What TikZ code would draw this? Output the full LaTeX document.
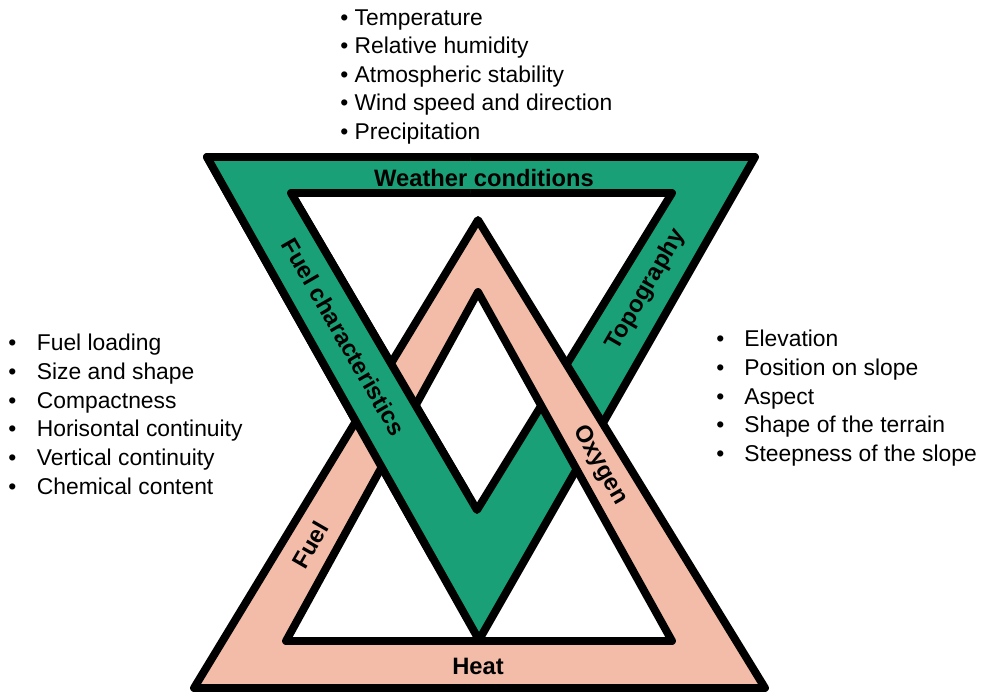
\documentclass[tikz,border=0pt]{standalone}
\usepackage{fontspec}
\setmainfont{Liberation Sans}
\usetikzlibrary{positioning}
\definecolor{fireGreen}{HTML}{19A077}
\definecolor{firePink}{HTML}{F3BCA9}

\tikzset{
  band/.style={draw=black,line width=4.5pt,line join=round,even odd rule},
  tag/.style={font=\fontsize{13.5}{15}\selectfont\bfseries,inner sep=0pt},
  list/.style={font=\fontsize{13}{16.3}\selectfont,align=left,anchor=north west,inner sep=0pt}
}
\newcommand{\bul}[1][1.25em]{\makebox[#1][l]{•}}

\begin{document}
\begin{tikzpicture}[x=0.02cm,y=-0.02cm]
  \useasboundingbox (0,0) rectangle (989,696);
  % corners of the two rings
  \coordinate (g1) at (207,157);
  \coordinate (g2) at (755,157);
  \coordinate (g3) at (479,640);
  \coordinate (h1) at (291,193);
  \coordinate (h2) at (672,193);
  \coordinate (h3) at (477,510);
  \coordinate (p1) at (194,688);
  \coordinate (p2) at (765,688);
  \coordinate (p3) at (478,220);
  \coordinate (q1) at (286,641);
  \coordinate (q2) at (672,641);
  \coordinate (q3) at (478,292);
  % green ring, pink ring on top
  \filldraw[band,fill=fireGreen] (g1) -- (g2) -- (g3) -- cycle (h1) -- (h2) -- (h3) -- cycle;
  \filldraw[band,fill=firePink] (p1) -- (p2) -- (p3) -- cycle (q1) -- (q2) -- (q3) -- cycle;
  % green passes over pink on the left
  \begin{scope}
    \clip (150,100) rectangle (470,560);
    \filldraw[band,fill=fireGreen] (g1) -- (g2) -- (g3) -- cycle (h1) -- (h2) -- (h3) -- cycle;
  \end{scope}
  % band labels
  \node[tag] (weather) at (484,178) {Weather conditions};
  \node[tag,rotate=-60] (fuelchar) at (344,337) {Fuel characteristics};
  \node[tag,rotate=60] (topo) at (646,290) {Topography};
  \node[tag,rotate=60] (fuel) at (310,545) {Fuel};
  \node[tag,rotate=-60] (oxygen) at (600,465) {Oxygen};
  \node[tag] (heat) at (478,666) {Heat};
  % factor lists
  \node[list] (wlist) at (340,9)
    {• Temperature\\• Relative humidity\\• Atmospheric stability\\• Wind speed and direction\\• Precipitation};
  \node[list] (flist) at (8,334)
    {\bul Fuel loading\\\bul Size and shape\\\bul Compactness\\\bul Horisontal continuity\\\bul Vertical continuity\\\bul Chemical content};
  \node[list] (tlist) at (716,330)
    {\bul[0.95em] Elevation\\\bul[0.95em] Position on slope\\\bul[0.95em] Aspect\\\bul[0.95em] Shape of the terrain\\\bul[0.95em] Steepness of the slope};
\end{tikzpicture}
\end{document}
